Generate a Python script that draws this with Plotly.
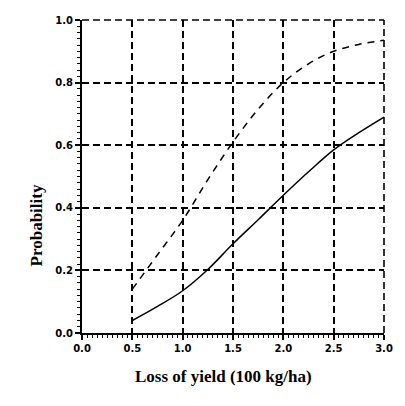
import plotly.graph_objects as go

x_vals = [0.5, 0.75, 1.0, 1.25, 1.5, 1.75, 2.0, 2.25, 2.5, 2.75, 3.0]
solid_vals = [0.04, 0.085, 0.135, 0.203, 0.285, 0.362, 0.44, 0.515, 0.585, 0.64, 0.69]
dashed_vals = [0.14, 0.25, 0.36, 0.49, 0.61, 0.715, 0.80, 0.86, 0.90, 0.922, 0.935]
x_ticks = [0.0, 0.5, 1.0, 1.5, 2.0, 2.5, 3.0]
y_ticks = [0.0, 0.2, 0.4, 0.6, 0.8, 1.0]

fig = go.Figure()
fig.add_trace(go.Scatter(x=x_vals, y=dashed_vals, mode="lines",
                         line=dict(color="black", width=1.5, dash="7px,6px", shape="spline", smoothing=1.0),
                         showlegend=False))
fig.add_trace(go.Scatter(x=x_vals, y=solid_vals, mode="lines",
                         line=dict(color="black", width=1.5, shape="spline", smoothing=1.0),
                         showlegend=False))

tickfont = dict(family="DejaVu Sans", size=10, color="black")
grid_dash = "7px,4px"
fig.update_layout(
    width=405, height=406,
    margin=dict(l=82, r=16, t=20, b=73),
    paper_bgcolor="white", plot_bgcolor="white",
    xaxis=dict(range=[0, 3.0], tickvals=x_ticks, ticktext=[f"<b>{v:.1f}</b>" for v in x_ticks],
               showgrid=True, gridcolor="black", griddash=grid_dash, gridwidth=1.6,
               showline=True, linecolor="black", linewidth=2,
               ticks="outside", ticklen=5, tickcolor="black", tickwidth=1.5,
               minor=dict(dtick=0.05, ticks="outside", ticklen=3, tickcolor="black", tickwidth=1.2, showgrid=False),
               tickfont=tickfont, zeroline=False),
    yaxis=dict(range=[0, 1.0], tickvals=y_ticks, ticktext=[f"<b>{v:.1f}</b>" for v in y_ticks],
               showgrid=True, gridcolor="black", griddash=grid_dash, gridwidth=1.6,
               showline=True, linecolor="black", linewidth=2,
               ticks="outside", ticklen=5, tickcolor="black", tickwidth=1.5,
               minor=dict(dtick=0.02, ticks="outside", ticklen=3, tickcolor="black", tickwidth=1.2, showgrid=False),
               tickfont=tickfont, zeroline=False),
    shapes=[
        dict(type="line", xref="paper", yref="paper", x0=0, x1=1, y0=1, y1=1,
             line=dict(color="black", width=1.6, dash=grid_dash)),
        dict(type="line", xref="paper", yref="paper", x0=1, x1=1, y0=0, y1=1,
             line=dict(color="black", width=1.6, dash=grid_dash)),
    ],
    annotations=[
        dict(text="<b>Probability</b>", x=24, y=406 - 225, xref="paper", yref="paper", showarrow=False,
             textangle=-90, font=dict(family="Liberation Serif", size=17, color="black")),
        dict(text="<b>Loss of yield (100 kg/ha)</b>", x=226, y=406 - 388, xref="paper", yref="paper", showarrow=False,
             font=dict(family="Liberation Serif", size=17, color="black")),
    ],
)
pw = 405 - 82 - 16
ph = 406 - 20 - 73
for a in fig.layout.annotations:
    a.x = (a.x - 82) / pw
    a.y = (a.y - 73) / ph

fig.write_html("out.html")
